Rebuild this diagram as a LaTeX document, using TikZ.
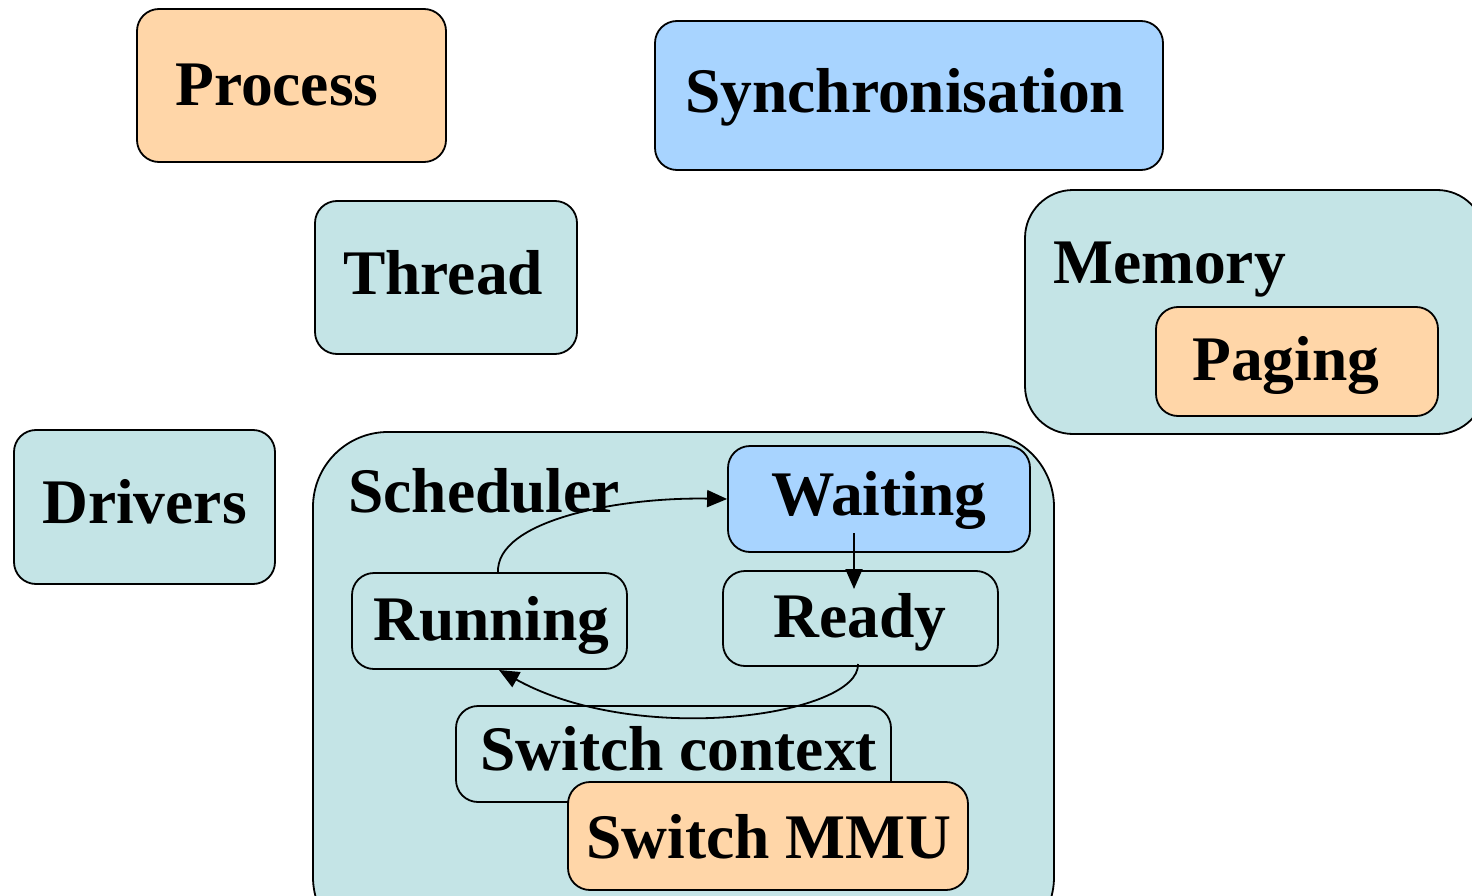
\documentclass[tikz,border=0pt]{standalone}
\usepackage{fontspec}
\setmainfont{Liberation Serif}
\usetikzlibrary{arrows.meta}
\definecolor{teal}{HTML}{C4E4E6}
\definecolor{sky}{HTML}{A8D4FF}
\definecolor{peach}{HTML}{FFD6A8}
\tikzset{
  box/.style={draw=black, line width=1.8pt, rounded corners=22pt, inner sep=0pt},
  lbl/.style={anchor=base west, inner sep=0pt, font=\fontsize{63.5}{70}\selectfont\bfseries},
  flow/.style={line width=1.8pt, -{Triangle[length=20pt,width=17pt]}},
}
\begin{document}
\begin{tikzpicture}[x=1pt,y=-1pt]
\useasboundingbox (0,0) rectangle (1472,896);
\clip (0,0) rectangle (1472,896);

% top row
\node[box, fill=peach, minimum width=309pt, minimum height=153pt] (process) at (291.5,85.5) {};
\node[lbl] (processT) at (175,106) {Process};
\node[box, fill=sky, minimum width=508pt, minimum height=149pt] (sync) at (909,95.5) {};
\node[lbl] (syncT) at (685,113) {Synchronisation};

% thread
\node[box, fill=teal, minimum width=262pt, minimum height=153pt] (thread) at (446,277.5) {};
\node[lbl] (threadT) at (343,294) {Thread};

% memory with paging
\node[box, fill=teal, rounded corners=48pt, minimum width=460pt, minimum height=244pt] (memory) at (1255,312) {};
\node[lbl] (memoryT) at (1053,283) {Memory};
\node[box, fill=peach, minimum width=282pt, minimum height=109pt] (paging) at (1297,361.5) {};
\node[lbl] (pagingT) at (1192,380) {Paging};

% drivers
\node[box, fill=teal, minimum width=261pt, minimum height=154pt] (drivers) at (144.5,507) {};
\node[lbl] (driversT) at (42,523) {Drivers};

% scheduler and its parts
\node[box, fill=teal, rounded corners=75pt, minimum width=741pt, minimum height=520pt] (sched) at (683.5,692) {};
\node[lbl] (schedT) at (348,512) {Scheduler};
\node[box, fill=sky, minimum width=302pt, minimum height=106pt] (waiting) at (879,499) {};
\node[lbl] (waitingT) at (771,515) {Waiting};
\node[box, fill=teal, minimum width=275pt, minimum height=96pt] (running) at (489.5,621) {};
\node[lbl] (runningT) at (373,640) {Running};
\node[box, fill=teal, minimum width=275pt, minimum height=95pt] (ready) at (860.5,618.5) {};
\node[lbl] (readyT) at (773,637) {Ready};
\node[box, fill=teal, minimum width=435pt, minimum height=96pt] (switchctx) at (673.5,754) {};
\node[lbl] (switchctxT) at (480,770) {Switch context};
\node[box, fill=peach, minimum width=400pt, minimum height=108pt] (switchmmu) at (768,836) {};
\node[lbl] (switchmmuT) at (586,858) {Switch MMU};

% transitions
\coordinate (runTop) at (498,573);
\coordinate (waitIn) at (854,533);
\coordinate (readyIn) at (854,589);
\coordinate (readyBot) at (858,664);
\coordinate (runBot) at (499,670);
\draw[flow] (runTop) .. controls (495,520) and (620,497) .. (waiting.west);
\draw[flow] (waitIn) -- (readyIn);
\draw[flow] (readyBot) .. controls (860,715) and (640,748) .. (runBot);
\end{tikzpicture}
\end{document}
